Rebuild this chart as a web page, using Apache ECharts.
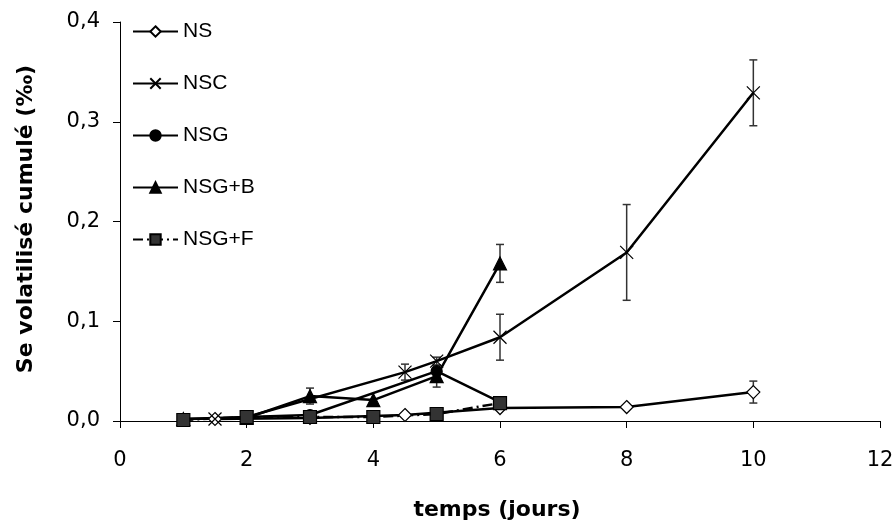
<!DOCTYPE html>
<html>
<head>
<meta charset="utf-8">
<script src="https://cdn.jsdelivr.net/npm/echarts@6/dist/echarts.min.js"></script>
<style>html,body{margin:0;padding:0;background:#fff}#c{width:893px;height:525px}</style>
</head>
<body>
<div id="c"></div>
<script>
// ---- data ----
const xTickValues = [0, 2, 4, 6, 8, 10, 12];
const yTickValues = [0, 0.1, 0.2, 0.3, 0.4];

const NS_x   = [1.5, 3, 4.5, 6, 8, 10];
const NS_y   = [0.002, 0.003, 0.006, 0.013, 0.014, 0.029];
const NS_err = [0, 0, 0, 0, 0, 0.011];

const NSC_x   = [1.5, 2, 4.5, 5, 6, 8, 10];
const NSC_y   = [0.002, 0.004, 0.049, 0.060, 0.084, 0.169, 0.329];
const NSC_err = [0, 0, 0.008, 0.004, 0.023, 0.048, 0.033];

const NSG_x   = [1, 2, 3, 5, 6];
const NSG_y   = [0.002, 0.004, 0.006, 0.050, 0.019];
const NSG_err = [0, 0, 0, 0.004, 0];

const NSGB_x   = [1, 2, 3, 4, 5, 6];
const NSGB_y   = [0.002, 0.003, 0.025, 0.021, 0.045, 0.158];
const NSGB_err = [0, 0, 0.008, 0, 0.011, 0.019];

const NSGF_x   = [1, 2, 3, 4, 5, 6];
const NSGF_y   = [0.001, 0.004, 0.004, 0.004, 0.007, 0.018];
const NSGF_err = [0, 0, 0, 0, 0, 0];

const names = ['NS', 'NSC', 'NSG', 'NSG+B', 'NSG+F'];
const xTitle = 'temps (jours)';
const yTitle = 'Se volatilisé cumulé (‰)';

// ---- helpers ----
function pts(xs, ys) { return xs.map((x, i) => [x, ys[i]]); }
function errs(xs, ys, es) {
  const out = [];
  xs.forEach((x, i) => { if (es[i] > 0) out.push([x, ys[i] - es[i], ys[i] + es[i]]); });
  return out;
}
const errData = [].concat(
  errs(NS_x, NS_y, NS_err),
  errs(NSC_x, NSC_y, NSC_err),
  errs(NSG_x, NSG_y, NSG_err),
  errs(NSGB_x, NSGB_y, NSGB_err),
  errs(NSGF_x, NSGF_y, NSGF_err)
);

const chart = echarts.init(document.getElementById('c'), null, {renderer: 'canvas'});

const lineW = 2.5;
function lineSeries(name, data, symbol, size, fill, dash) {
  return {
    name: name, type: 'line', data: data,
    symbol: symbol, symbolSize: size,
    lineStyle: {color: '#000', width: lineW, type: dash || 'solid'},
    itemStyle: {color: fill, borderColor: '#000', borderWidth: 1.2},
    emphasis: {disabled: true},
    animation: false,
    z: 3
  };
}

const xMin = xTickValues[0], xMax = xTickValues[xTickValues.length - 1];
const xStep = xTickValues[1] - xTickValues[0];
const yMin = yTickValues[0], yMax = yTickValues[yTickValues.length - 1];

const option = {
  backgroundColor: '#fff',
  animation: false,
  grid: {left: 120, right: 13, top: 22, bottom: 104, containLabel: false, outerBoundsMode: 'none'},
  legend: {
    orient: 'vertical',
    left: 132, top: 21, padding: 0,
    itemWidth: 45, itemHeight: 13, itemGap: 31,
    data: names,
    textStyle: {fontFamily: 'Liberation Sans', fontSize: 21, color: '#000'},
    selectedMode: false
  },
  xAxis: {
    type: 'value', min: xMin, max: xMax, interval: xStep,
    axisLine: {show: true, onZero: false, lineStyle: {color: '#000', width: 1}},
    axisTick: {show: true, inside: false, length: 7, lineStyle: {color: '#000'}},
    axisLabel: {show: false},
    splitLine: {show: false}
  },
  yAxis: {
    type: 'value', min: yMin, max: yMax, interval: 0.1,
    axisLine: {show: true, lineStyle: {color: '#000', width: 1}},
    axisTick: {show: true, inside: false, length: 7, lineStyle: {color: '#000'}},
    axisLabel: {margin: 20, fontFamily: 'DejaVu Sans', fontSize: 21, color: '#000',
      formatter: v => v.toFixed(1).replace('.', ',')},
    splitLine: {show: false}
  },
  graphic: [
    {type: 'text', x: 26, y: 219, rotation: Math.PI / 2,
     style: {text: yTitle, font: 'bold 22px "DejaVu Sans"', fill: '#000',
       textAlign: 'center', textVerticalAlign: 'middle'}},
    {type: 'text', x: 497, y: 510,
     style: {text: xTitle, font: 'bold 22px "DejaVu Sans"', fill: '#000',
       textAlign: 'center', textVerticalAlign: 'middle'}}
  ],
  series: [
    {
      name: 'xticklabels', type: 'custom', clip: false, silent: true, animation: false,
      data: xTickValues.map(v => [v, yMin]),
      encode: {x: 0, y: 1},
      renderItem: function (params, api) {
        const p = api.coord([api.value(0), api.value(1)]);
        return {type: 'text', x: p[0], y: p[1] + 40,
          style: {text: String(api.value(0)), font: '21px "DejaVu Sans"', fill: '#000',
            textAlign: 'center', textVerticalAlign: 'middle'}};
      }
    },
    {
      name: 'err', type: 'custom', data: errData, z: 2, animation: false,
      renderItem: function (params, api) {
        const x = api.value(0);
        const lo = api.coord([x, api.value(1)]);
        const hi = api.coord([x, api.value(2)]);
        const cw = 4;
        const st = {stroke: '#333', lineWidth: 1.5};
        return {type: 'group', children: [
          {type: 'line', shape: {x1: lo[0], y1: lo[1], x2: hi[0], y2: hi[1]}, style: st},
          {type: 'line', shape: {x1: lo[0] - cw, y1: lo[1], x2: lo[0] + cw, y2: lo[1]}, style: st},
          {type: 'line', shape: {x1: hi[0] - cw, y1: hi[1], x2: hi[0] + cw, y2: hi[1]}, style: st}
        ]};
      },
      encode: {x: 0, y: [1, 2]}
    },
    lineSeries('NS', pts(NS_x, NS_y), 'diamond', 13, '#fff'),
    lineSeries('NSC', pts(NSC_x, NSC_y), 'path://M0,0L10,10M10,0L0,10', 13, 'none'),
    lineSeries('NSG', pts(NSG_x, NSG_y), 'circle', 11, '#000'),
    lineSeries('NSG+B', pts(NSGB_x, NSGB_y), 'triangle', 13, '#000'),
    lineSeries('NSG+F', pts(NSGF_x, NSGF_y), 'rect', 13, '#333', [10, 4, 2, 4])
  ]
};
chart.setOption(option);
</script>
</body>
</html>
